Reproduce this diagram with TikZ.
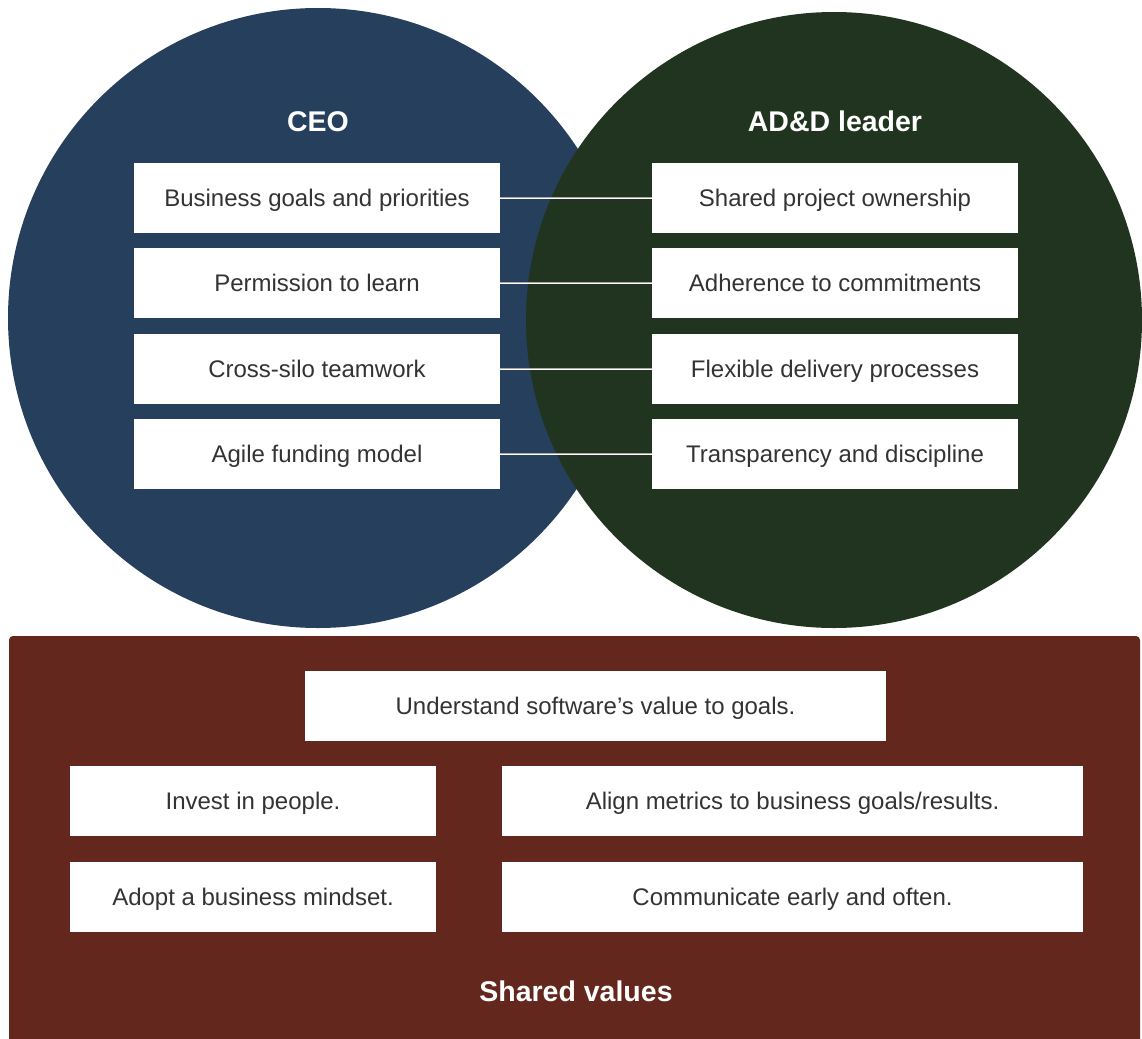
\documentclass[tikz,border=0pt]{standalone}
\usepackage{fontspec}
\setmainfont{Liberation Sans}
\definecolor{ceoblue}{HTML}{253F5C}
\definecolor{leadgreen}{HTML}{213420}
\definecolor{valuebrown}{HTML}{63271D}
\definecolor{bodytext}{HTML}{333333}
\definecolor{linkgrey}{HTML}{A8A8A8}
\begin{document}
\begin{tikzpicture}[x=1pt,y=-1pt,
  item/.style={fill=white, draw=none, inner sep=0pt, minimum height=70pt,
    text=bodytext, font=\fontsize{24}{27}\selectfont,
    text height=17.2pt, text depth=0pt},
  narrow/.style={item, minimum width=366pt},
  wide/.style={item, minimum width=581pt},
  heading/.style={text=white, font=\fontsize{28.5}{31}\selectfont\bfseries,
    text height=20.4pt, text depth=0pt, inner sep=0pt},
  linktop/.style={draw=linkgrey, line width=1pt},
  linkbot/.style={draw=white, line width=1.2pt}]
\useasboundingbox (0,0) rectangle (1142,1038);

% the two overlapping circles
\fill[ceoblue] (318,318) circle[radius=310];
\fill[leadgreen] (834,320) circle[radius=308];

% shared values panel
\fill[valuebrown, rounded corners=4pt] (9,636) rectangle (1140,1050);

% headings
\node[heading] (ceo) at (318,121) {CEO};
\node[heading] (lead) at (835,121) {AD\&D leader};
\node[heading] (shared) at (576,991) {Shared values};

% CEO column
\node[narrow] (c1) at (317,198) {Business goals and priorities};
\node[narrow] (c2) at (317,283) {Permission to learn};
\node[narrow] (c3) at (317,369) {Cross-silo teamwork};
\node[narrow] (c4) at (317,454) {Agile funding model};

% AD&D leader column
\node[narrow] (l1) at (835,198) {Shared project ownership};
\node[narrow] (l2) at (835,283) {Adherence to commitments};
\node[narrow] (l3) at (835,369) {Flexible delivery processes};
\node[narrow] (l4) at (835,454) {Transparency and discipline};

% links between the paired items
\foreach \i in {1,...,4}{
  \draw[linktop] ([yshift=0.8pt]c\i.east) -- ([yshift=0.8pt]l\i.west);
  \draw[linkbot] ([yshift=-0.6pt]c\i.east) -- ([yshift=-0.6pt]l\i.west);
}

% shared values items
\node[wide] (v1) at (595.5,706) {Understand software’s value to goals.};
\node[narrow] (v2) at (253,801) {Invest in people.};
\node[wide] (v3) at (792.5,801) {Align metrics to business goals/results.};
\node[narrow] (v4) at (253,897) {Adopt a business mindset.};
\node[wide] (v5) at (792.5,897) {Communicate early and often.};
\end{tikzpicture}
\end{document}
